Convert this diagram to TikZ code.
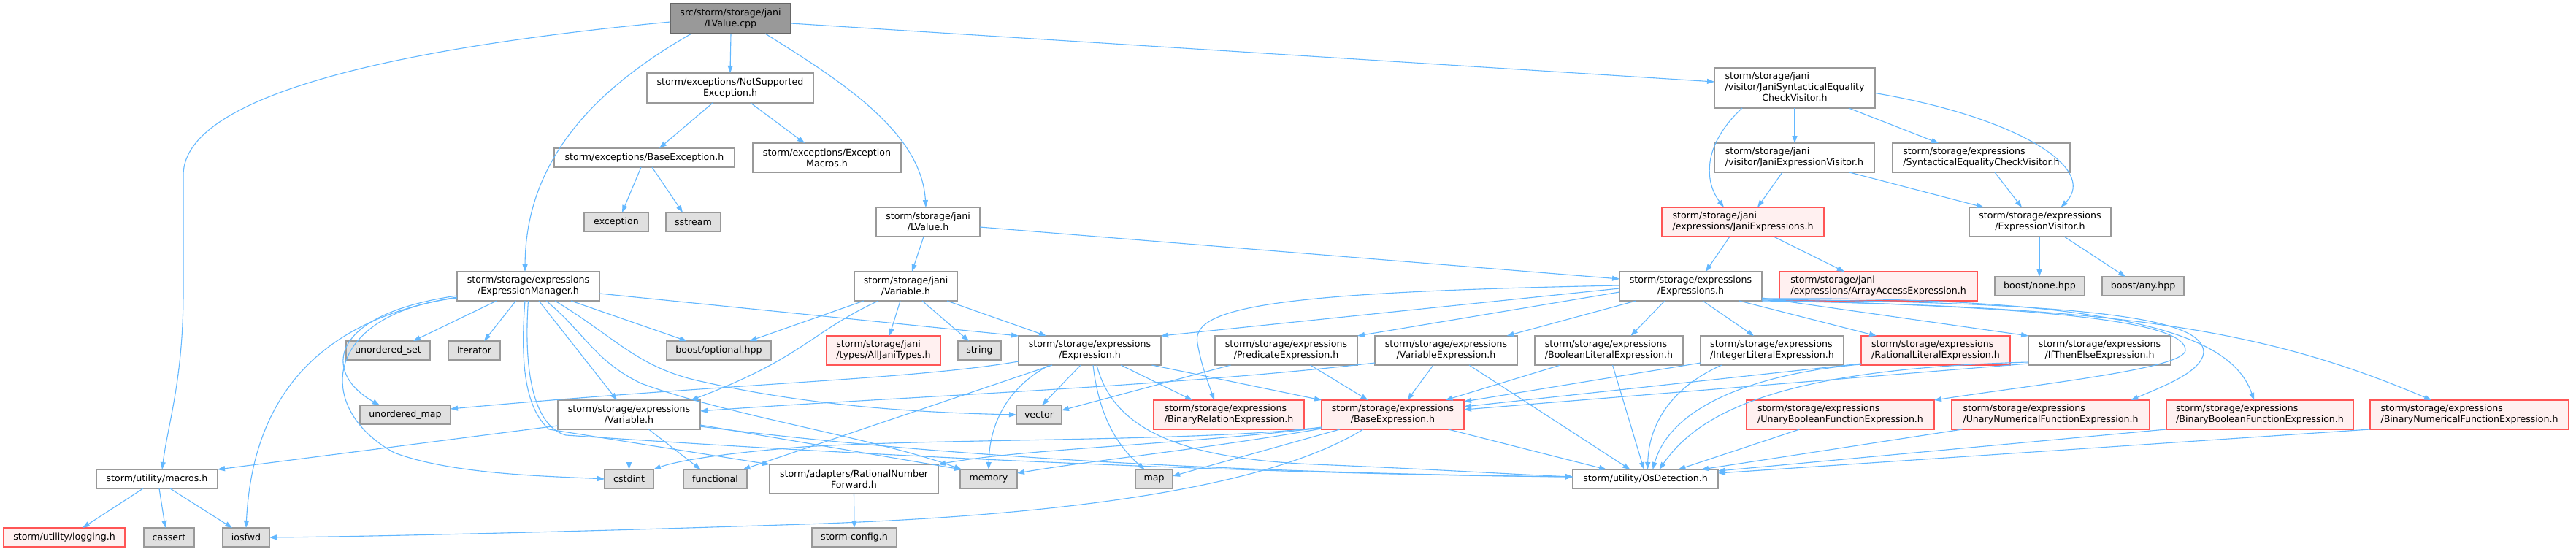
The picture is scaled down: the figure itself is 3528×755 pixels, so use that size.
\documentclass[tikz,border=0pt]{standalone}
\usepackage{fontspec}
\setmainfont{DejaVu Sans}
\usetikzlibrary{arrows.meta}
\definecolor{edgeblue}{HTML}{63B8FF}
\definecolor{boxgray}{HTML}{999999}
\definecolor{redborder}{HTML}{FF5555}
\definecolor{redfill}{HTML}{FFF0F0}
\definecolor{extfill}{HTML}{E0E0E0}
\definecolor{rootfill}{HTML}{999999}
\definecolor{rootborder}{HTML}{666666}
\newcommand\nodefont{\fontsize{12.6pt}{15pt}\selectfont}
\newcommand\mkbox[7]{\node[#2,minimum width={(#5-#3)*1pt},minimum height={(#6-#4)*1pt}] (#1) at ({(#3+#5)/2},{(#4+#6)/2}) {#7};}
\tikzset{
  plainbox/.style={draw=boxgray,line width=1.5pt,fill=white,rectangle,inner sep=0pt,outer sep=0pt,font=\nodefont},
  nbox/.style={plainbox,align=center},
  lbox/.style={plainbox,align=left},
  rbox/.style={plainbox,draw=redborder,fill=redfill,align=center},
  rboxl/.style={plainbox,draw=redborder,fill=redfill,align=left},
  ebox/.style={plainbox,fill=extfill,align=center},
  rootbox/.style={plainbox,draw=rootborder,fill=rootfill,align=center},
  conn/.style={draw=edgeblue,line width=1.1pt,-{Triangle[length=10pt,width=7pt]}}
}
\begin{document}
\begin{tikzpicture}[x=1pt,y=-1pt]
\path[fill=white,use as bounding box] (0,0) rectangle (3528,755);
% nodes
\mkbox{root}{rootbox}{918}{5}{1083}{46}{src/storm/storage/jani\\/LValue.cpp}
\mkbox{nse}{nbox}{886}{100}{1114}{141}{storm/exceptions/NotSupported\\Exception.h}
\mkbox{bexc}{nbox}{759}{203}{1006}{229}{storm/exceptions/BaseException.h}
\mkbox{emac}{nbox}{1031}{196}{1234}{236}{storm/exceptions/Exception\\Macros.h}
\mkbox{exc}{ebox}{800}{291}{888}{317}{exception}
\mkbox{sst}{ebox}{912}{291}{987}{317}{sstream}
\mkbox{jlv}{nbox}{1200}{284}{1342}{324}{storm/storage/jani\\/LValue.h}
\mkbox{jsv}{plainbox}{2348}{93}{2568}{148}{\begin{tabular}{@{}l@{}}storm/storage/jani\\/visitor/JaniSyntacticalEquality\\\multicolumn{1}{@{}c@{}}{CheckVisitor.h}\end{tabular}}
\mkbox{jev}{lbox}{2348}{196}{2567}{236}{storm/storage/jani\\/visitor/JaniExpressionVisitor.h}
\mkbox{sev}{lbox}{2592}{196}{2835}{236}{storm/storage/expressions\\/SyntacticalEqualityCheckVisitor.h}
\mkbox{jex}{rboxl}{2276}{284}{2498}{324}{storm/storage/jani\\/expressions/JaniExpressions.h}
\mkbox{ev}{nbox}{2697}{284}{2891}{324}{storm/storage/expressions\\/ExpressionVisitor.h}
\mkbox{bnone}{ebox}{2732}{379}{2855}{405}{boost/none.hpp}
\mkbox{bany}{ebox}{2879}{379}{2991}{405}{boost/any.hpp}
\mkbox{em}{nbox}{626}{372}{821}{412}{storm/storage/expressions\\/ExpressionManager.h}
\mkbox{jvar}{nbox}{1170}{372}{1311}{412}{storm/storage/jani\\/Variable.h}
\mkbox{exs}{nbox}{2218}{372}{2413}{412}{storm/storage/expressions\\/Expressions.h}
\mkbox{aae}{rboxl}{2437}{372}{2708}{412}{storm/storage/jani\\/expressions/ArrayAccessExpression.h}
\mkbox{uset}{ebox}{474}{467}{589}{493}{unordered\_set}
\mkbox{iter}{ebox}{614}{467}{685}{493}{iterator}
\mkbox{bopt}{ebox}{913}{467}{1056}{493}{boost/optional.hpp}
\mkbox{ajt}{rboxl}{1132}{460}{1288}{500}{storm/storage/jani\\/types/AllJaniTypes.h}
\mkbox{str}{ebox}{1312}{467}{1371}{493}{string}
\mkbox{expr}{nbox}{1395}{460}{1590}{500}{storm/storage/expressions\\/Expression.h}
\mkbox{pred}{nbox}{1664}{460}{1859}{500}{storm/storage/expressions\\/PredicateExpression.h}
\mkbox{vexp}{nbox}{1883}{460}{2078}{500}{storm/storage/expressions\\/VariableExpression.h}
\mkbox{blit}{lbox}{2102}{460}{2305}{500}{storm/storage/expressions\\/BooleanLiteralExpression.h}
\mkbox{ilit}{lbox}{2329}{460}{2525}{500}{storm/storage/expressions\\/IntegerLiteralExpression.h}
\mkbox{rlit}{rboxl}{2549}{460}{2753}{500}{storm/storage/expressions\\/RationalLiteralExpression.h}
\mkbox{ite}{nbox}{2778}{460}{2973}{500}{storm/storage/expressions\\/IfThenElseExpression.h}
\mkbox{umap}{ebox}{493}{555}{617}{581}{unordered\_map}
\mkbox{var}{nbox}{764}{548}{959}{588}{storm/storage/expressions\\/Variable.h}
\mkbox{vec}{ebox}{1392}{555}{1454}{581}{vector}
\mkbox{brel}{rboxl}{1580}{548}{1786}{588}{storm/storage/expressions\\/BinaryRelationExpression.h}
\mkbox{base}{rbox}{1810}{548}{2005}{588}{storm/storage/expressions\\/BaseExpression.h}
\mkbox{ubool}{rboxl}{2392}{548}{2649}{588}{storm/storage/expressions\\/UnaryBooleanFunctionExpression.h}
\mkbox{unum}{rboxl}{2673}{548}{2944}{588}{storm/storage/expressions\\/UnaryNumericalFunctionExpression.h}
\mkbox{bbool}{rboxl}{2967}{548}{3223}{588}{storm/storage/expressions\\/BinaryBooleanFunctionExpression.h}
\mkbox{bnum}{rboxl}{3246}{548}{3518}{588}{storm/storage/expressions\\/BinaryNumericalFunctionExpression.h}
\mkbox{macros}{nbox}{132}{643}{298}{669}{storm/utility/macros.h}
\mkbox{cst}{ebox}{828}{643}{895}{669}{cstdint}
\mkbox{func}{ebox}{936}{643}{1023}{669}{functional}
\mkbox{rnf}{nbox}{1054}{636}{1285}{676}{storm/adapters/RationalNumber\\Forward.h}
\mkbox{mem}{ebox}{1315}{643}{1393}{669}{memory}
\mkbox{map}{ebox}{1555}{643}{1606}{669}{map}
\mkbox{os}{nbox}{2154}{643}{2353}{669}{storm/utility/OsDetection.h}
\mkbox{log}{rbox}{5}{723}{171}{749}{storm/utility/logging.h}
\mkbox{cas}{ebox}{197}{723}{266}{749}{cassert}
\mkbox{iosf}{ebox}{305}{723}{369}{749}{iosfwd}
\mkbox{cfg}{ebox}{1112}{723}{1228}{749}{storm-config.h}
% edges from root
\draw[conn] ([xshift=0.5pt]root.south) -- (nse.north);
\draw[conn] ([yshift=-6.5pt]root.east) -- ([yshift=8.5pt]jsv.west);
\draw[conn] ([xshift=47.5pt]root.south) .. controls (1150,110) and (1262,180) .. ([xshift=-3pt]jlv.north);
\draw[conn] ([xshift=-53.5pt]root.south) .. controls (800,130) and (720,230) .. ([xshift=-4.5pt]em.north);
\draw[conn] ([yshift=-4.5pt]root.west) .. controls (600,60) and (251,120) .. (251,240) -- (251,400) .. controls (251,520) and (230,580) .. ([xshift=7pt]macros.north);
% exceptions
\draw[conn] ([xshift=-24pt]nse.south) -- ([xshift=20.5pt]bexc.north);
\draw[conn] ([xshift=28pt]nse.south) -- ([xshift=-30.5pt]emac.north);
\draw[conn] ([xshift=-4.5pt]bexc.south) -- ([xshift=8pt]exc.north);
\draw[conn] ([xshift=10.5pt]bexc.south) -- ([xshift=-14.5pt]sst.north);
% visitor area
\draw[conn] (jsv.south) -- ([xshift=0.5pt]jev.north);
\draw[conn] ([xshift=74pt]jsv.south) -- ([xshift=-58.5pt]sev.north);
\draw[conn] ([xshift=-72pt]jsv.south) .. controls (2330,200) and (2335,250) .. ([xshift=-26pt]jex.north);
\draw[conn] ([yshift=-7pt]jsv.east) .. controls (2760,160) and (2875,230) .. ([xshift=28.5pt]ev.north);
\draw[conn] ([xshift=-16.5pt]jev.south) -- ([xshift=20pt]jex.north);
\draw[conn] ([xshift=75.5pt]jev.south) -- ([xshift=-77pt]ev.north);
\draw[conn] ([xshift=18.5pt]sev.south) -- ([xshift=-25pt]ev.north);
\draw[conn] ([xshift=-1pt]ev.south) -- ([xshift=-0.5pt]bnone.north);
\draw[conn] ([xshift=33pt]ev.south) -- ([xshift=-24pt]bany.north);
\draw[conn] ([xshift=-18pt]jex.south) -- ([xshift=20.5pt]exs.north);
\draw[conn] ([xshift=42pt]jex.south) -- ([xshift=-46.5pt]aae.north);
% jani LValue / Variable
\draw[conn] ([xshift=-6pt]jlv.south) -- ([xshift=8.5pt]jvar.north);
\draw[conn] ([yshift=-7pt]jlv.east) -- ([yshift=10pt]exs.west);
\draw[conn] ([xshift=-7.5pt]jvar.south) -- ([xshift=8pt]ajt.north);
\draw[conn] ([xshift=22.5pt]jvar.south) -- ([xshift=-14.5pt]str.north);
\draw[conn] ([xshift=56.5pt]jvar.south) -- ([xshift=-59.5pt]expr.north);
\draw[conn] ([xshift=-57.5pt]jvar.south) -- ([xshift=42pt]bopt.north);
\draw[conn] ([xshift=-37.5pt]jvar.south) .. controls (1110,455) and (1100,490) .. ([xshift=85pt]var.north);
% ExpressionManager
\draw[conn] ([xshift=-43.5pt]em.south) -- ([xshift=34.5pt]uset.north);
\draw[conn] ([xshift=-17pt]em.south) -- ([xshift=13.5pt]iter.north);
\draw[conn] ([xshift=58.5pt]em.south) -- ([xshift=-44pt]bopt.north);
\draw[conn] ([yshift=-10pt]em.east) -- (expr.north west);
\draw[conn] ([xshift=14.5pt]em.south) -- ([xshift=-16.5pt]var.north);
\draw[conn] ([xshift=24.5pt]em.south) .. controls (800,455) and (815,495) .. (878,525) .. controls (1000,570) and (1200,600) .. ([xshift=2pt]mem.north west);
\draw[conn] ([xshift=36.5pt]em.south) .. controls (840,460) and (870,500) .. (950,520) .. controls (1100,555) and (1250,565) .. (vec.west);
\draw[conn] ([xshift=-4.5pt]em.south) .. controls (712,500) and (720,560) .. (752,588) -- (rnf.north west);
\draw[conn] (em.south) .. controls (716,520) and (735,585) .. (775,596) .. controls (1300,632) and (1800,650) .. ([yshift=3pt]os.west);
\draw[conn] ([yshift=-13pt]em.west) .. controls (450,430) and (440,510) .. ([xshift=-35pt]umap.north);
\draw[conn] ([yshift=-15pt]em.west) .. controls (420,440) and (345,560) .. (iosf.north);
\draw[conn] ([yshift=-16pt]em.west) .. controls (440,430) and (430,560) .. (540,620) .. controls (620,650) and (750,652) .. (cst.west);
% expressions/Variable.h
\draw[conn] (var.south) -- (cst.north);
\draw[conn] ([xshift=27pt]var.south) -- ([xshift=-20pt]func.north);
\draw[conn] ([yshift=-15pt]var.west) -- (macros.north east);
\draw[conn] ([yshift=-14pt]var.east) -- ([xshift=2pt]mem.north west);
\draw[conn] ([yshift=-16pt]var.east) .. controls (1400,640) and (1900,650) .. ([yshift=3pt]os.west);
% Expression.h
\draw[conn] ([yshift=-15pt]expr.west) .. controls (1250,520) and (1000,525) .. ([yshift=8pt]umap.east);
\draw[conn] ([xshift=-51.5pt]expr.south) -- ([xshift=38pt]func.north);
\draw[conn] ([xshift=-55pt]expr.south) .. controls (1380,530) and (1355,580) .. (mem.north);
\draw[conn] ([xshift=-12.5pt]expr.south) -- ([xshift=4pt]vec.north);
\draw[conn] ([xshift=4.5pt]expr.south) .. controls (1505,570) and (1530,610) .. ([xshift=-13pt]map.north);
\draw[conn] ([xshift=9.5pt]expr.south) .. controls (1525,590) and (1620,628) .. (1800,636) .. controls (1950,642) and (2080,650) .. ([yshift=3pt]os.west);
\draw[conn] ([xshift=42.5pt]expr.south) -- ([xshift=-50pt]brel.north);
\draw[conn] ([xshift=85pt]expr.south) -- (base.north west);
% Predicate / VariableExpression
\draw[conn] ([xshift=-76pt]pred.south) -- ([yshift=6pt]vec.east);
\draw[conn] ([xshift=33pt]pred.south) -- ([xshift=-34pt]base.north);
\draw[conn] ([xshift=-17.5pt]vexp.south) -- ([xshift=20pt]base.north);
\draw[conn] ([xshift=31.5pt]vexp.south) -- ([xshift=-21pt]os.north);
\draw[conn] ([yshift=-17pt]vexp.west) .. controls (1600,530) and (1200,545) .. ([yshift=5pt]var.east);
% literals
\draw[conn] ([xshift=-66.5pt]blit.south) -- ([xshift=72pt]base.north);
\draw[conn] ([xshift=5pt]blit.south) -- ([xshift=-2pt]os.north);
\draw[conn] ([yshift=-17pt]ilit.west) -- ([yshift=18pt]base.east);
\draw[conn] ([xshift=-69pt]ilit.south) .. controls (2290,530) and (2258,580) .. ([xshift=3pt]os.north);
\draw[conn] ([yshift=-18pt]rlit.west) -- ([yshift=11pt]base.east);
\draw[conn] ([yshift=-19pt]rlit.west) .. controls (2420,510) and (2290,550) .. ([xshift=10pt]os.north);
\draw[conn] ([yshift=-18pt]ite.west) -- ([yshift=7pt]base.east);
\draw[conn] ([yshift=-16pt]ite.west) .. controls (2450,505) and (2330,560) .. ([xshift=19pt]os.north);
% BaseExpression
\draw[conn] ([yshift=-17pt]base.west) .. controls (1650,605) and (1300,600) .. (1100,612) .. controls (1000,620) and (930,630) .. (cst.north east);
\draw[conn] ([yshift=-18pt]base.west) .. controls (1600,610) and (1400,615) .. (rnf.north east);
\draw[conn] ([yshift=-19pt]base.west) .. controls (1650,615) and (1500,630) .. ([yshift=8pt]mem.east);
\draw[conn] ([xshift=-72.5pt]base.south) -- ([yshift=4pt]map.east);
\draw[conn] ([xshift=-40.5pt]base.south) .. controls (1750,660) and (1500,705) .. (1100,718) .. controls (800,728) and (500,735) .. (iosf.east);
\draw[conn] ([xshift=76pt]base.south) -- ([xshift=-53.5pt]os.north);
% function expressions
\draw[conn] ([xshift=-56pt]ubool.south) -- ([xshift=45pt]os.north);
\draw[conn] ([xshift=-121pt]unum.south) -- ([xshift=76.5pt]os.north);
\draw[conn] (bbool.south west) -- ([yshift=11pt]os.east);
\draw[conn] (bnum.south west) -- ([yshift=8pt]os.east);
% Expressions.h
\draw[conn] ([yshift=-3pt]exs.west) -- (expr.north east);
\draw[conn] ([yshift=-8pt]exs.west) -- (pred.north east);
\draw[conn] ([xshift=-75pt]exs.south) -- ([xshift=83pt]vexp.north);
\draw[conn] ([yshift=1pt]exs.west) .. controls (1750,400) and (1630,420) .. (1640,470) .. controls (1645,500) and (1655,525) .. ([xshift=-20pt]brel.north);
\draw[conn] ([xshift=-35.5pt]exs.south) -- ([xshift=30pt]blit.north);
\draw[conn] ([xshift=16.5pt]exs.south) -- ([xshift=-25pt]ilit.north);
\draw[conn] ([xshift=66.5pt]exs.south) -- ([xshift=-81pt]rlit.north);
\draw[conn] ([yshift=-16pt]exs.east) -- (ite.north west);
\draw[conn] ([yshift=-19pt]exs.east) .. controls (2800,420) and (2995,440) .. (2993,480) .. controls (2990,505) and (2800,525) .. (ubool.north east);
\draw[conn] ([yshift=-18pt]exs.east) .. controls (2900,415) and (3018,440) .. (3018,483) .. controls (3015,510) and (2960,530) .. ([xshift=110pt]unum.north);
\draw[conn] ([yshift=-17pt]exs.east) .. controls (2950,405) and (3060,470) .. ([xshift=-8pt]bbool.north);
\draw[conn] ([yshift=-20pt]exs.east) .. controls (2900,420) and (3100,450) .. ([xshift=-52pt]bnum.north);
% macros & rnf
\draw[conn] ([xshift=-19pt]macros.south) -- ([xshift=25pt]log.north);
\draw[conn] ([xshift=3pt]macros.south) -- ([xshift=-5pt]cas.north);
\draw[conn] ([xshift=18pt]macros.south) -- ([xshift=-19pt]iosf.north);
\draw[conn] (rnf.south) -- (cfg.north);
\end{tikzpicture}
\end{document}
